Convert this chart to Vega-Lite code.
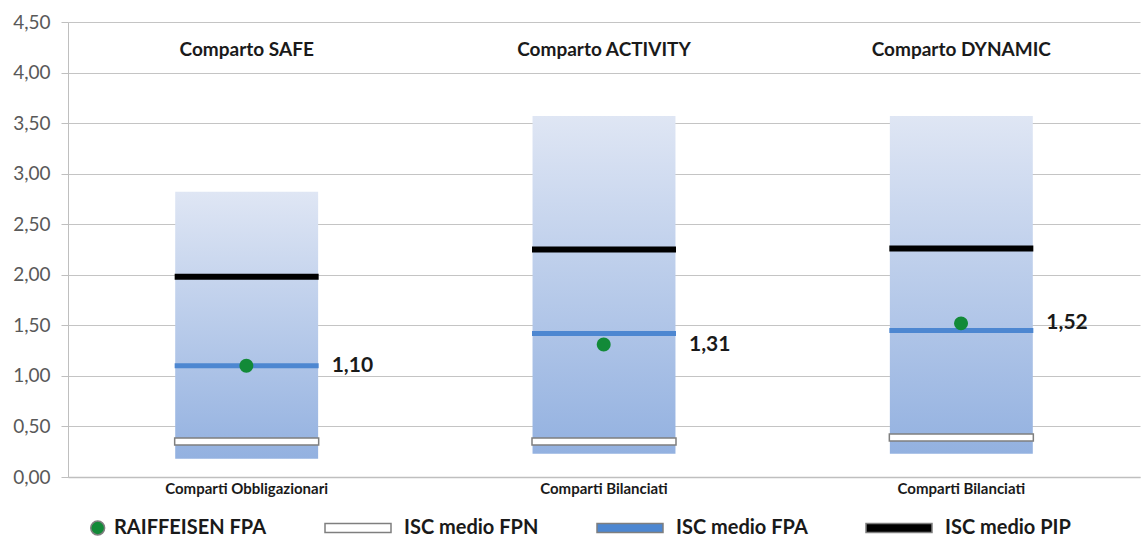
{
  "$schema": "https://vega.github.io/schema/vega-lite/v6.json",
  "width": 1072,
  "height": 455,
  "autosize": {"type": "none"},
  "padding": {"left": 68, "top": 22, "right": 3, "bottom": 63},
  "background": "white",
  "config": {
    "view": {"stroke": null},
    "font": "Lato",
    "locale": {"number": {"decimal": ",", "thousands": ".", "grouping": [3], "currency": ["€", ""]}},
    "axis": {"labelFont": "Lato", "title": null}
  },
  "data": {
    "values": [
      {"id": "S", "comparto": "Comparto SAFE", "tipo": "Comparti Obbligazionari", "min": 0.18, "max": 2.82, "fpn": 0.35, "fpa": 1.10, "pip": 1.98, "raiff": 1.10},
      {"id": "A", "comparto": "Comparto ACTIVITY", "tipo": "Comparti Bilanciati", "min": 0.23, "max": 3.57, "fpn": 0.35, "fpa": 1.42, "pip": 2.25, "raiff": 1.31},
      {"id": "D", "comparto": "Comparto DYNAMIC", "tipo": "Comparti Bilanciati", "min": 0.23, "max": 3.57, "fpn": 0.39, "fpa": 1.45, "pip": 2.26, "raiff": 1.52}
    ]
  },
  "encoding": {
    "x": {
      "field": "id", "type": "nominal", "sort": ["S", "A", "D"],
      "scale": {"paddingInner": 0.6, "paddingOuter": 0.3},
      "axis": {
        "labelExpr": "datum.value == 'S' ? 'Comparti Obbligazionari' : 'Comparti Bilanciati'",
        "labelAngle": 0, "ticks": false, "domainColor": "#bfbfbf", "domainWidth": 1.5,
        "labelFontSize": 15, "labelFontWeight": "bold", "labelColor": "#1a1a1a", "labelPadding": 4, "grid": false
      }
    }
  },
  "layer": [
    {
      "mark": {"type": "bar", "color": {"gradient": "linear", "x1": 0, "y1": 0, "x2": 0, "y2": 1, "stops": [{"offset": 0, "color": "#dfe6f4"}, {"offset": 1, "color": "#93b1e0"}]}},
      "encoding": {
        "y": {
          "field": "min", "type": "quantitative",
          "scale": {"domain": [0, 4.5], "nice": false, "zero": true},
          "axis": {
            "values": [0, 0.5, 1, 1.5, 2, 2.5, 3, 3.5, 4, 4.5], "format": ".2f",
            "gridColor": "#c4c4c4", "domainColor": "#bfbfbf", "tickColor": "#bfbfbf", "tickSize": 7,
            "labelFontSize": 19, "labelColor": "#595959", "labelPadding": 11
          }
        },
        "y2": {"field": "max"}
      }
    },
    {
      "mark": {"type": "tick", "thickness": 7, "size": 144, "stroke": "#7f7f7f", "strokeWidth": 1.5, "opacity": 1},
      "encoding": {"y": {"field": "fpn", "type": "quantitative"}, "color": {"datum": "ISC medio FPN"}}
    },
    {
      "mark": {"type": "tick", "thickness": 5, "size": 144, "opacity": 1},
      "encoding": {"y": {"field": "fpa", "type": "quantitative"}, "color": {"datum": "ISC medio FPA"}}
    },
    {
      "mark": {"type": "tick", "thickness": 6, "size": 144, "opacity": 1},
      "encoding": {"y": {"field": "pip", "type": "quantitative"}, "color": {"datum": "ISC medio PIP"}}
    },
    {
      "mark": {"type": "point", "filled": true, "size": 4356, "opacity": 1, "xOffset": -30, "strokeWidth": 0},
      "encoding": {
        "y": {"field": "raiff", "type": "quantitative"},
        "shape": {
          "datum": "RAIFFEISEN FPA",
          "scale": {"domain": ["RAIFFEISEN FPA", "ISC medio FPN", "ISC medio FPA", "ISC medio PIP"], "range": ["M0.69,0 A0.21,0.21 0 1,0 1.11,0 A0.21,0.21 0 1,0 0.69,0 Z", "M-1,-0.14H1V0.14H-1Z", "M-1,-0.14H1V0.14H-1Z", "M-1,-0.14H1V0.14H-1Z"]},
          "legend": null
        },
        "color": {
          "datum": "RAIFFEISEN FPA",
          "scale": {"domain": ["RAIFFEISEN FPA", "ISC medio FPN", "ISC medio FPA", "ISC medio PIP"], "range": ["#128a38", "#ffffff", "#4d87d1", "#000000"]},
          "legend": {
            "title": null, "orient": "none", "direction": "horizontal", "legendX": -34, "legendY": 472,
            "symbolSize": 4356, "columnPadding": 55, "labelOffset": 12,
            "labelFont": "Lato", "labelFontSize": 20, "labelFontWeight": "bold", "labelColor": "#1a1a1a",
            "encode": {
              "symbols": {
                "update": {
                  "shape": {"scale": "shape", "field": "value"},
                  "fill": {"scale": "color", "field": "value"},
                  "stroke": [{"test": "datum.value === 'ISC medio FPN'", "value": "#7f7f7f"}, {"value": "transparent"}],
                  "strokeWidth": {"value": 1.5},
                  "opacity": {"value": 1}
                }
              }
            }
          }
        }
      }
    },
    {
      "mark": {"type": "text", "align": "left", "baseline": "middle", "dx": 85, "fontSize": 21, "fontWeight": "bold", "color": "#1a1a1a"},
      "encoding": {"y": {"field": "raiff", "type": "quantitative"}, "text": {"field": "raiff", "type": "quantitative", "format": ".2f"}}
    },
    {
      "mark": {"type": "text", "align": "center", "baseline": "middle", "fontSize": 19, "fontWeight": "bold", "color": "#1a1a1a"},
      "encoding": {"y": {"datum": 4.22}, "text": {"field": "comparto"}}
    }
  ]
}
